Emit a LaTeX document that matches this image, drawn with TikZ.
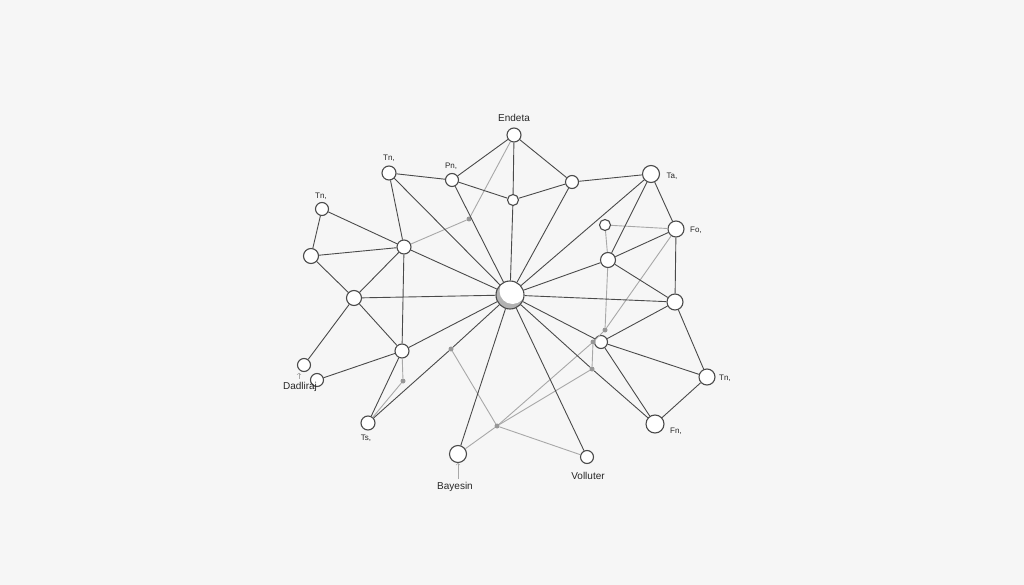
\documentclass[tikz,border=0pt]{standalone}
\usepackage{fontspec}
\setmainfont{Liberation Sans}
\usepackage{tikz}
\definecolor{bgcol}{HTML}{F6F6F6}
\definecolor{edgecol}{HTML}{4A4A4A}
\definecolor{graycol}{HTML}{A8A8A8}
\tikzset{
  nd/.style={circle, draw=edgecol, line width=1.1pt, fill=white, inner sep=0pt, minimum size=#1},
  nd/.default=14pt,
  gdot/.style={circle, fill=graycol!90!black, inner sep=0pt, minimum size=5pt},
  ln/.style={draw=edgecol, line width=0.9pt},
  gln/.style={draw=graycol, line width=0.9pt},
  lbl/.style={font=\fontsize{10}{12}\selectfont, text=black!85},
  slbl/.style={font=\fontsize{8}{10}\selectfont, text=black!85}
}
\begin{document}
\begin{tikzpicture}[x=1pt, y=-1pt]
      \fill[bgcol] (0,0) rectangle (1024,585);
      \useasboundingbox (0,0) rectangle (1024,585);
      \node[nd=28pt, draw=none, fill=none] (C) at (510,295) {};
      \node[nd] (E) at (514,135) {};
      \node[nd] (T1) at (389,173) {};
      \node[nd=13pt] (P1) at (452,180) {};
      \node[nd=11pt] (M1) at (513,200) {};
      \node[nd=13pt] (R1) at (572,182) {};
      \node[nd=17pt] (T2) at (651,174) {};
      \node[nd=16pt] (F1) at (676,229) {};
      \node[nd=11pt] (S1) at (605,225) {};
      \node[nd=15pt] (N1) at (608,260) {};
      \node[nd=13pt] (Tm) at (322,209) {};
      \node[nd=15pt] (L1) at (311,256) {};
      \node[nd] (H1) at (404,247) {};
      \node[nd=15pt] (L2) at (354,298) {};
      \node[nd=16pt] (R2) at (675,302) {};
      \node[nd] (H2) at (402,351) {};
      \node[nd=13pt] (D1) at (304,365) {};
      \node[nd=13pt] (D2) at (317,380) {};
      \node[nd] (T3) at (368,423) {};
      \node[nd=17pt] (B) at (458,454) {};
      \node[nd=13pt] (V) at (587,457) {};
      \node[nd=13pt] (Q1) at (601,342) {};
      \node[nd=16pt] (Tr) at (707,377) {};
      \node[nd=18pt] (Fr) at (655,424) {};
      \node[gdot] (g1) at (469,219) {};
      \node[gdot] (g2) at (451,349) {};
      \node[gdot] (g3) at (403,381) {};
      \node[gdot] (g4) at (497,426) {};
      \node[gdot] (g5) at (592,369) {};
      \node[gdot] (g6) at (605,330) {};
      \node[gdot] (gq) at (593,342) {};
      \draw[gln] (E) -- (g1) -- (H1);
      \draw[gln] (S1) -- (F1);
      \draw[gln] (S1) -- (N1);
      \draw[gln] (N1) -- (g6);
      \draw[gln] (F1) -- (g6) -- (gq) -- (g4);
      \draw[gln] (gq) -- (g5) -- (g4);
      \draw[gln] (g4) -- (V);
      \draw[gln] (g4) -- (B);
      \draw[gln] (g2) -- (g4);
      \draw[gln] (H2) -- (g3) -- (T3);
      \draw[ln] (T1) -- (P1);
      \draw[ln] (T1) -- (H1);
      \draw[ln] (T1) -- (C);
      \draw[ln] (P1) -- (E);
      \draw[ln] (P1) -- (M1);
      \draw[ln] (P1) -- (C);
      \draw[ln] (E) -- (M1);
      \draw[ln] (M1) -- (C);
      \draw[ln] (E) -- (R1);
      \draw[ln] (M1) -- (R1);
      \draw[ln] (R1) -- (T2);
      \draw[ln] (R1) -- (C);
      \draw[ln] (T2) -- (C);
      \draw[ln] (T2) -- (N1);
      \draw[ln] (T2) -- (F1);
      \draw[ln] (F1) -- (N1);
      \draw[ln] (F1) -- (R2);
      \draw[ln] (N1) -- (C);
      \draw[ln] (N1) -- (R2);
      \draw[ln] (Tm) -- (H1);
      \draw[ln] (Tm) -- (L1);
      \draw[ln] (L1) -- (H1);
      \draw[ln] (L1) -- (L2);
      \draw[ln] (H1) -- (C);
      \draw[ln] (H1) -- (L2);
      \draw[ln] (H1) -- (H2);
      \draw[ln] (L2) -- (C);
      \draw[ln] (L2) -- (H2);
      \draw[ln] (L2) -- (D1);
      \draw[ln] (H2) -- (C);
      \draw[ln] (H2) -- (D2);
      \draw[ln] (H2) -- (T3);
      \draw[ln] (T3) -- (g2) -- (C);
      \draw[ln] (C) -- (R2);
      \draw[ln] (R2) -- (Q1);
      \draw[ln] (R2) -- (Tr);
      \draw[ln] (Q1) -- (Tr);
      \draw[ln] (Q1) -- (Fr);
      \draw[ln] (Q1) -- (C);
      \draw[ln] (C) -- (g5) -- (Fr);
      \draw[ln] (C) -- (V);
      \draw[ln] (Tr) -- (Fr);
      \draw[ln] (C) -- (B);
      \begin{scope}
        \clip (C) circle (14);
        \fill[gray!60] (C) circle (14);
        \fill[white] ([shift={(2.5,-4)}]C.center) circle (13);
      \end{scope}
      \draw[edgecol, line width=1.1pt] (C) circle (14);
      \node[lbl] (lE) at (514,118) {Endeta};
      \node[slbl] (lT1) at (389,158) {Tn,};
      \node[slbl] (lP1) at (451,166) {Pn,};
      \node[slbl] (lTm) at (321,196) {Tn,};
      \node[slbl] (lT2) at (672,176) {Ta,};
      \node[slbl] (lF1) at (696,230) {Fo,};
      \node[slbl] (lTr) at (725,378) {Tn,};
      \node[slbl] (lFr) at (676,431) {Fn,};
      \node[slbl] (lT3) at (366,438) {Ts,};
      \node[lbl] (lD) at (300,387) {Dadliraj};
      \node[lbl] (lB) at (455,487) {Bayesin};
      \node[lbl] (lV) at (588,476) {Volluter};
      \draw[->, graycol, line width=0.6pt] (lD.north -| D1.south) ++(-5,0) -- ++(0,-6);
      \draw[->, graycol, line width=0.6pt] (lB.north -| B.south) -- (B.south);
\end{tikzpicture}
\end{document}
